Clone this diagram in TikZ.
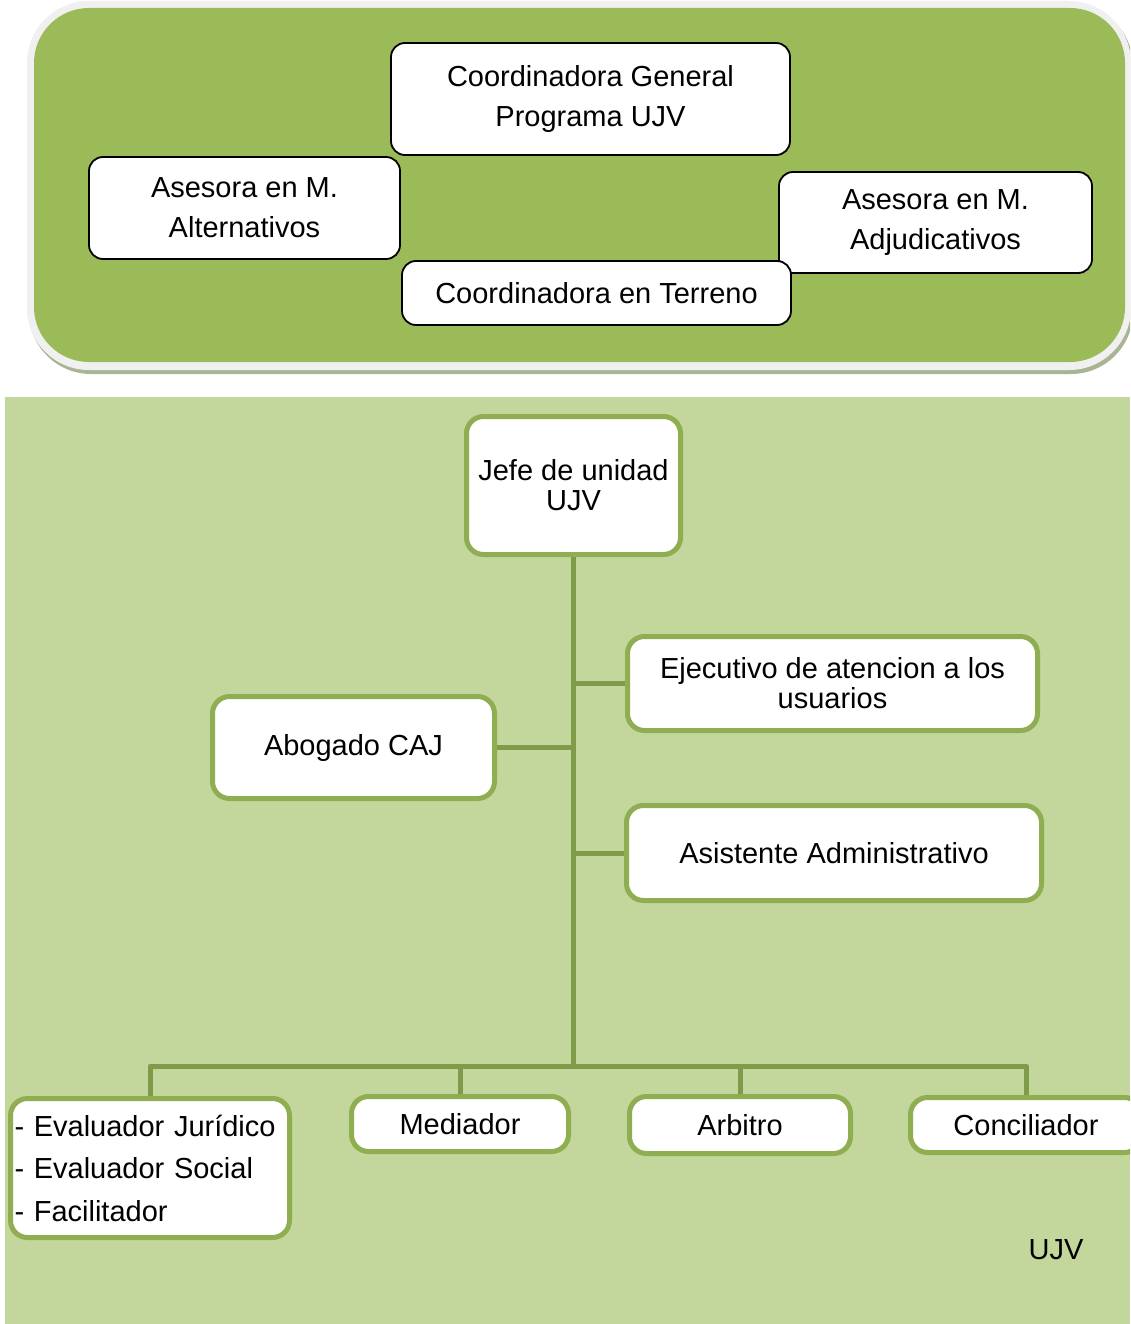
\documentclass[tikz,border=0pt]{standalone}
\usepackage{fontspec}
\setmainfont{Liberation Sans}
\definecolor{topgreen}{HTML}{9BBB59}
\definecolor{botbg}{HTML}{C3D69B}
\definecolor{boxgreen}{HTML}{8FAE52}
\definecolor{linegreen}{HTML}{7F9A48}
\definecolor{graybord}{HTML}{F0F0F0}
\definecolor{shadowc}{HTML}{A9B495}
\tikzset{
  topbox/.style={draw=black, line width=1.8pt, fill=white, rounded corners=14pt,
    align=center, inner sep=0pt, font=\fontsize{29}{40}\selectfont},
  botbox/.style={draw=boxgreen, line width=5pt, fill=white, rounded corners=17pt,
    align=center, inner sep=0pt, font=\fontsize{29}{30}\selectfont},
  conn/.style={draw=linegreen, line width=5pt, line join=round},
  plain/.style={inner sep=0pt, font=\fontsize{29}{30}\selectfont}
}
\begin{document}
\begin{tikzpicture}[x=1pt, y=-1pt]
\clip (0,0) rectangle (1130,1324);
\fill[white] (0,0) rectangle (1130,1324);
% top panel
\fill[shadowc, rounded corners=62pt] (29,4) rectangle (1133,374);
\fill[graybord, rounded corners=62pt] (27,1) rectangle (1131,370);
\fill[topgreen, rounded corners=55pt] (34,8) rectangle (1125,362);
\node[topbox, minimum width=399pt, minimum height=112pt] (cg) at (590.5,99) {Coordinadora General\\Programa UJV};
\node[topbox, minimum width=311pt, minimum height=102pt] (alt) at (244.5,208) {Asesora en M.\\Alternativos};
\node[topbox, minimum width=313pt, minimum height=101pt] (adj) at (935.5,222.5) {Asesora en M.\\Adjudicativos};
\node[topbox, minimum width=389pt, minimum height=64pt] (ter) at (596.5,293) {Coordinadora en Terreno};
% bottom panel
\fill[botbg] (5,397) rectangle (1130,1324);
\node[botbox, minimum width=214pt, minimum height=138pt] (jefe) at (573.5,485.5) {Jefe de unidad\\UJV};
\node[botbox, minimum width=410pt, minimum height=94pt] (ejec) at (832.5,683.5) {Ejecutivo de atencion a los\\usuarios};
\node[botbox, minimum width=282pt, minimum height=102pt] (abog) at (353.5,747.5) {Abogado CAJ};
\node[botbox, minimum width=415pt, minimum height=95pt] (asis) at (834,853) {Asistente Administrativo};
\node[botbox, align=left, text width=271pt, inner xsep=4pt, minimum height=139pt,
  font=\fontsize{29}{42.5}\selectfont] (eval) at (150,1168) {- Evaluador Jurídico\\- Evaluador Social\\- Facilitador};
\node[botbox, minimum width=217pt, minimum height=55pt] (med) at (460,1124) {Mediador};
\node[botbox, minimum width=221pt, minimum height=57pt] (arb) at (740,1125) {Arbitro};
\node[botbox, minimum width=231pt, minimum height=55pt] (conc) at (1026,1125) {Conciliador};
\node[plain] (ujv) at (1056,1250) {UJV};
% connectors
\coordinate (bar) at (574,1066);
\draw[conn] (jefe.south) -- (jefe.south |- bar);
\draw[conn] (eval.north) -- (eval.north |- bar) -| (conc.north);
\draw[conn] (med.north) -- (med.north |- bar);
\draw[conn] (arb.north) -- (arb.north |- bar);
\draw[conn] (ejec.west) -- (ejec.west -| jefe.south);
\draw[conn] (abog.east) -- (abog.east -| jefe.south);
\draw[conn] (asis.west) -- (asis.west -| jefe.south);
\end{tikzpicture}
\end{document}
